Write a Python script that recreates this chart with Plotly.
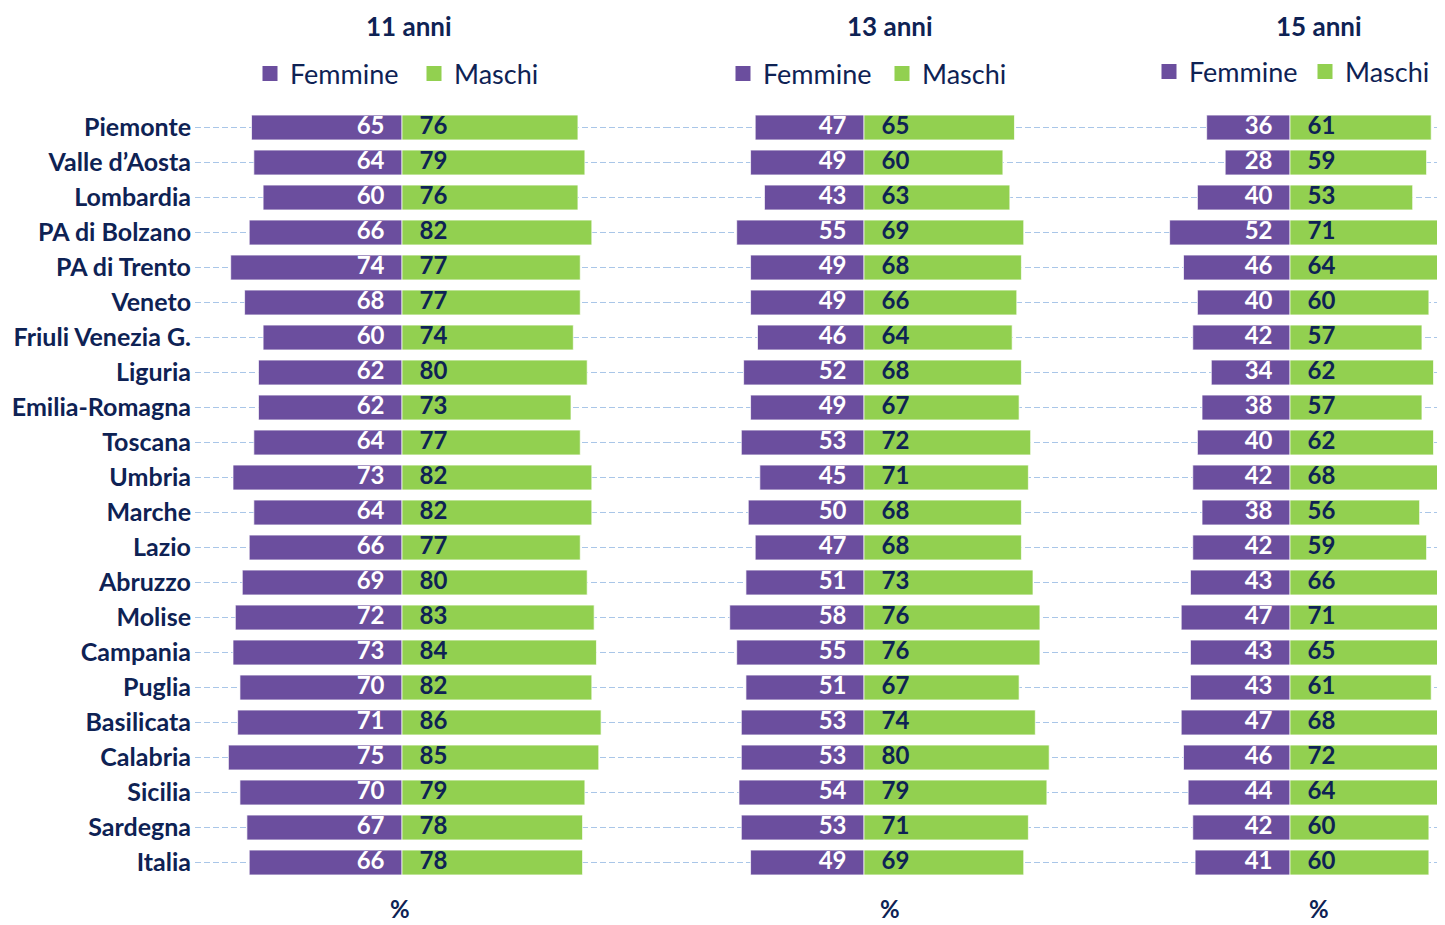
import plotly.graph_objects as go

regions = ["Piemonte", "Valle d\u2019Aosta", "Lombardia", "PA di Bolzano", "PA di Trento", "Veneto",
           "Friuli Venezia G.", "Liguria", "Emilia-Romagna", "Toscana", "Umbria", "Marche", "Lazio",
           "Abruzzo", "Molise", "Campania", "Puglia", "Basilicata", "Calabria", "Sicilia", "Sardegna", "Italia"]

femmine_11 = [65, 64, 60, 66, 74, 68, 60, 62, 62, 64, 73, 64, 66, 69, 72, 73, 70, 71, 75, 70, 67, 66]
maschi_11 = [76, 79, 76, 82, 77, 77, 74, 80, 73, 77, 82, 82, 77, 80, 83, 84, 82, 86, 85, 79, 78, 78]
femmine_13 = [47, 49, 43, 55, 49, 49, 46, 52, 49, 53, 45, 50, 47, 51, 58, 55, 51, 53, 53, 54, 53, 49]
maschi_13 = [65, 60, 63, 69, 68, 66, 64, 68, 67, 72, 71, 68, 68, 73, 76, 76, 67, 74, 80, 79, 71, 69]
femmine_15 = [36, 28, 40, 52, 46, 40, 42, 34, 38, 40, 42, 38, 42, 43, 47, 43, 43, 47, 46, 44, 42, 41]
maschi_15 = [61, 59, 53, 71, 64, 60, 57, 62, 57, 62, 68, 56, 59, 66, 71, 65, 61, 68, 72, 64, 60, 60]

titles = ["11 anni", "13 anni", "15 anni"]
series_names = ["Femmine", "Maschi"]
unit_label = "%"

PURPLE = "#6B4E9E"
GREEN = "#92D050"
NAVY = "#0E2254"
GRID = "#A9C6E8"
FONT = "Lato"

# page body has an 8px margin: size the figure so it ends at the window edge
OFF = 8
WIN_W, WIN_H = 1445, 925
W, H = WIN_W - OFF, WIN_H - OFF

# positions below are in window pixels (as measured on the reference)
PLOT_L, PLOT_T, PLOT_B = 195, 110, 880
ML = PLOT_L - OFF
MT = PLOT_T - OFF
MB = WIN_H - PLOT_B
MR = 0
PW = W - ML - MR
PH = H - MT - MB
PX_PER_UNIT = 2.315

panels = [
    dict(center=402, d0=195, d1=665, tx=409, px=400, lx=250, ly=74, ew=119),
    dict(center=864, d0=665, d1=1110, tx=890, px=890, lx=723, ly=74, ew=114),
    dict(center=1290, d0=1110, d1=1445, tx=1319, px=1319, lx=1149, ly=72, ew=111),
]
data = [(femmine_11, maschi_11), (femmine_13, maschi_13), (femmine_15, maschi_15)]
colors = [PURPLE, GREEN]

def pxx(p):
    return (p - PLOT_L) / PW

def pxy(p):
    return (PLOT_B - p) / PH

fig = go.Figure()
legend_ids = ["legend", "legend2", "legend3"]
PAD = "\u00a0\u00a0\u00a0"

for i, (p, (fem, mas)) in enumerate(zip(panels, data)):
    xa = "x" if i == 0 else f"x{i+1}"
    lg = legend_ids[i]
    fig.add_trace(go.Bar(
        y=regions, x=[-v for v in fem], orientation="h", name=series_names[0],
        marker=dict(color=PURPLE, line=dict(color="rgba(255,255,255,0.7)", width=1)),
        xaxis=xa, yaxis="y", showlegend=False, hoverinfo="skip"))
    fig.add_trace(go.Bar(
        y=regions, x=mas, orientation="h", name=series_names[1],
        marker=dict(color=GREEN, line=dict(color="rgba(255,255,255,0.7)", width=1)),
        xaxis=xa, yaxis="y", showlegend=False, hoverinfo="skip"))
    fig.add_trace(go.Scatter(
        y=regions, x=[0] * len(fem), mode="text",
        text=[f"{v}{PAD}" for v in fem], textposition="middle left",
        textfont=dict(family=FONT, size=24, color="white", weight="bold"),
        xaxis=xa, yaxis="y", showlegend=False, hoverinfo="skip"))
    fig.add_trace(go.Scatter(
        y=regions, x=[0] * len(mas), mode="text",
        text=[f"{PAD}{v}" for v in mas], textposition="middle right",
        textfont=dict(family=FONT, size=24, color=NAVY, weight="bold"),
        xaxis=xa, yaxis="y", showlegend=False, hoverinfo="skip"))
    for name, col in zip(series_names, colors):
        fig.add_trace(go.Scatter(
            x=[None], y=[None], mode="markers", name=name,
            marker=dict(symbol="square", size=15, color=col),
            xaxis=xa, yaxis="y", legend=lg, hoverinfo="skip"))

layout = dict(
    width=W, height=H,
    margin=dict(l=ML, r=MR, t=MT, b=MB, autoexpand=False),
    paper_bgcolor="white", plot_bgcolor="white",
    barmode="relative", bargap=0.29,
    showlegend=True,
    font=dict(family=FONT, color=NAVY),
    yaxis=dict(type="category", categoryorder="array", categoryarray=regions,
               range=[len(regions) - 0.5, -0.5], autorange=False,
               showgrid=True, gridcolor=GRID, gridwidth=1,
               griddash="6px,3px", zeroline=False, showline=False, ticks="",
               automargin=False, ticklabelstandoff=3,
               tickfont=dict(family=FONT, size=25, color=NAVY, weight="bold")),
)

annotations = []
for i, p in enumerate(panels):
    key = "xaxis" if i == 0 else f"xaxis{i+1}"
    rng = [-(p["center"] - p["d0"]) / PX_PER_UNIT, (p["d1"] - p["center"]) / PX_PER_UNIT]
    layout[key] = dict(domain=[pxx(p["d0"]), min(1.0, pxx(p["d1"]))], range=rng, visible=False,
                       anchor="y", fixedrange=True, automargin=False)
    layout[legend_ids[i]] = dict(
        orientation="h", x=pxx(p["lx"]), xanchor="left", y=pxy(p["ly"]), yanchor="middle",
        bgcolor="rgba(0,0,0,0)", entrywidth=p["ew"], entrywidthmode="pixels",
        font=dict(family=FONT, size=27, color=NAVY), traceorder="normal")
    annotations.append(dict(text=titles[i], x=pxx(p["tx"]), y=pxy(OFF + 1), xref="paper", yref="paper",
                            showarrow=False, xanchor="center", yanchor="top", borderpad=0,
                            font=dict(family=FONT, size=26, color=NAVY, weight="bold")))
    annotations.append(dict(text=unit_label, x=pxx(p["px"]), y=pxy(WIN_H - 1), xref="paper", yref="paper",
                            showarrow=False, xanchor="center", yanchor="bottom", borderpad=0,
                            font=dict(family=FONT, size=24, color=NAVY, weight="bold")))

layout["annotations"] = annotations
fig.update_layout(**layout)

fig.write_html("out.html")
